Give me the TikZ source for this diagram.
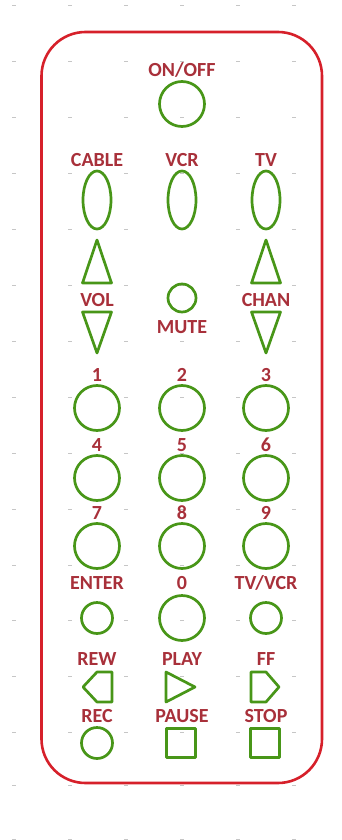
\documentclass[tikz,border=0pt]{standalone}
\usepackage{fontspec}
\setmainfont{Carlito}
\usepackage{tikz}
\usetikzlibrary{shapes.geometric}

\definecolor{framered}{RGB}{214,32,42}
\definecolor{keygreen}{RGB}{72,150,24}
\definecolor{labelred}{RGB}{168,48,58}

\tikzset{
  keybtn/.style={draw=keygreen, line width=2.7pt, inner sep=0pt},
  keylbl/.style={text=labelred, font=\fontsize{20}{20}\selectfont\bfseries, inner sep=0pt},
  gridmark/.style={gray!45, line width=0.8pt}
}

\begin{document}
\begin{tikzpicture}[x=1pt, y=-1pt, line join=round]
            \useasboundingbox (0,0) rectangle (341,840);
            % Lưới chấm
            \foreach \gx in {14,70,126,182,238,294}
              \foreach \gy in {5,61,117,173,229,285,341,397,453,509,565,620,676,732,785,839}
                \draw[gridmark] (\gx-2,\gy) -- (\gx+2,\gy);

            % Vỏ điều khiển
            \draw[framered, line width=2.6pt, rounded corners=44pt] (41.5,32) rectangle (322,783);

            % Nguồn
            \node[keylbl] (lonoff) at (182,70) {ON/OFF};
            \node[keybtn, circle, minimum size=45pt] (onoff) at (182,104) {};

            % Chọn thiết bị
            \node[keylbl] (lcable) at (97,160) {CABLE};
            \node[keylbl] (lvcr) at (182,160) {VCR};
            \node[keylbl] (ltv) at (266,160) {TV};
            \node[keybtn, ellipse, minimum width=28pt, minimum height=58pt] (cable) at (97,200) {};
            \node[keybtn, ellipse, minimum width=28pt, minimum height=58pt] (vcr) at (182,200) {};
            \node[keybtn, ellipse, minimum width=28pt, minimum height=58pt] (tv) at (266,200) {};

            % Âm lượng, kênh
            \draw[keybtn] (97,240) -- (111.5,283) -- (82.5,283) -- cycle;
            \draw[keybtn] (266,240) -- (280.5,283) -- (251.5,283) -- cycle;
            \node[keylbl] (lvol) at (97,300) {VOL};
            \node[keylbl] (lchan) at (266,300) {CHAN};
            \draw[keybtn] (82.5,312) -- (111.5,312) -- (97,353) -- cycle;
            \draw[keybtn] (251.5,312) -- (280.5,312) -- (266,353) -- cycle;
            \node[keybtn, circle, minimum size=28pt] (mute) at (182,298) {};
            \node[keylbl] (lmute) at (182,327) {MUTE};

            % Phím số
            \node[keylbl] (l1) at (97,375) {1};
            \node[keylbl] (l2) at (182,375) {2};
            \node[keylbl] (l3) at (266,375) {3};
            \node[keybtn, circle, minimum size=45pt] (k1) at (97,408) {};
            \node[keybtn, circle, minimum size=45pt] (k2) at (182,408) {};
            \node[keybtn, circle, minimum size=45pt] (k3) at (266,408) {};
            \node[keylbl] (l4) at (97,445) {4};
            \node[keylbl] (l5) at (182,445) {5};
            \node[keylbl] (l6) at (266,445) {6};
            \node[keybtn, circle, minimum size=45pt] (k4) at (97,478) {};
            \node[keybtn, circle, minimum size=45pt] (k5) at (182,478) {};
            \node[keybtn, circle, minimum size=45pt] (k6) at (266,478) {};
            \node[keylbl] (l7) at (97,513) {7};
            \node[keylbl] (l8) at (182,513) {8};
            \node[keylbl] (l9) at (266,513) {9};
            \node[keybtn, circle, minimum size=45pt] (k7) at (97,546) {};
            \node[keybtn, circle, minimum size=45pt] (k8) at (182,546) {};
            \node[keybtn, circle, minimum size=45pt] (k9) at (266,546) {};
            \node[keylbl] (lenter) at (97,583) {ENTER};
            \node[keylbl] (l0) at (182,583) {0};
            \node[keylbl] (ltvvcr) at (266,583) {TV/VCR};
            \node[keybtn, circle, minimum size=31pt] (enter) at (97,618) {};
            \node[keybtn, circle, minimum size=45pt] (k0) at (182,618) {};
            \node[keybtn, circle, minimum size=31pt] (tvvcr) at (266,618) {};

            % Băng hình
            \node[keylbl] (lrew) at (97,659) {REW};
            \node[keylbl] (lplay) at (182,659) {PLAY};
            \node[keylbl] (lff) at (266,659) {FF};
            \draw[keybtn] (83,687) -- (97,672) -- (112,672) -- (112,702) -- (97,702) -- cycle;
            \draw[keybtn] (166,672) -- (195,687) -- (166,702) -- cycle;
            \draw[keybtn] (279,687) -- (266,672) -- (251,672) -- (251,702) -- (266,702) -- cycle;
            \node[keylbl] (lrec) at (97,716) {REC};
            \node[keylbl] (lpause) at (182,716) {PAUSE};
            \node[keylbl] (lstop) at (266,716) {STOP};
            \node[keybtn, circle, minimum size=31pt] (rec) at (97,743) {};
            \node[keybtn, rectangle, minimum size=29pt] (pause) at (181,743) {};
            \node[keybtn, rectangle, minimum size=29pt] (stop) at (265,743) {};
        \end{tikzpicture}
\end{document}
